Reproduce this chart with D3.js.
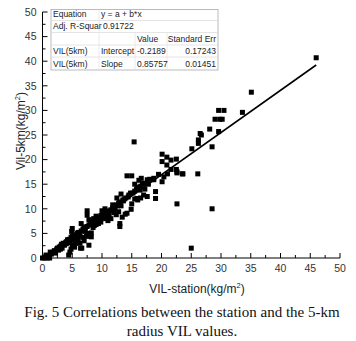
<!DOCTYPE html>
<html>
<head>
<meta charset="utf-8">
<script src="https://cdn.jsdelivr.net/npm/d3@7"></script>
<style>
html,body{margin:0;padding:0;background:#fff;}
svg{display:block;}
</style>
</head>
<body>
<svg id="chart" width="356" height="341"></svg>
<script>
// ---- data ----
const stationVIL = [
  0,0.3,0.5,0.8,1,0.6,1.2,1.5,1.3,
  1.8,2,2.2,2.5,2.7,3,2.4,3,3.2,
  3.5,3.7,4,4,4.3,4.5,4.6,4.8,5,5,5.2,
  4.4,4.6,4.8,5.0,5.4,5.0,4.9,
  5.5,5.8,6,6.2,6.5,6.8,7,7.2,7.5,7.8,8,6,6.3,6.6,7,7.4,7.6,7.5,7.5,8.2,8.2,6.5,7.8,6.4,7.8,6.8,5.6,5.8,
  8.3,8.5,8.8,9,9.2,9.5,9.8,10,10.2,10.5,10.8,11,8.5,9,9.4,9.8,10,10.5,9,8.6,10.3,10.8,11.2,11,11.5,11.8,
  11.5,11.8,12,12.2,12.5,12.8,13,13.2,13.5,13.8,14,12,12.4,12.8,13,13,12.5,13.2,14.2,13.4,13.9,14.9,
  14.2,15,14.5,14.8,15.2,15.5,15.8,16,16.5,16.8,17,15,15.5,16,16.5,15.5,16.2,16.6,17.2,17,15.4,17.6,16.4,17.6,15.9,
  18.7,18.7,20.1,19,19,22.6,20.1,20.1,20.9,21.6,22.5,20.9,21.6,22.5,22.6,23.6,26.1,20.4,21,22.6,23.5,18,17.8,19.5,
  25.1,26.2,26.2,26.5,26.7,28.1,29.6,29,29.8,30.2,29.6,30.5,33.6,35.1,46,28.5,28.5,25,
  2.8,3.4,3.9,4.2,6.1,6.9,7.2,8.9,9.6,10.6,11.3,12.6,13.6,14.4,3.3,5.3,6.3,8.7
];
const radiusVIL = [
  0,0,0.2,0,0.5,0.6,0,0.8,1.2,
  1.2,1.5,1.0,2.0,1.6,2.4,1.8,1.8,2.8,
  3.0,2.6,3.3,2.9,3.6,3.8,3.1,4.2,4.4,3.6,4.0,
  0.6,1.2,1.8,2.6,2.2,6.0,5.4,
  4.7,5.0,5.2,4.5,5.5,5.9,6.0,5.4,6.4,6.7,6.8,3.6,3.0,2.0,3.5,4.4,5.0,9.6,8.7,5.1,4.3,7.0,7.8,2.0,2.6,4.2,3.0,4.0,
  7.2,7.5,7.5,7.8,8.0,8.2,8.6,8.6,9.0,9.0,9.4,9.4,6.2,6.8,7.0,7.3,9.6,10.0,8.5,8.0,8.0,8.2,8.6,7.6,8.0,10.8,
  9.8,10.2,10.4,10.0,10.8,11.2,11.4,10.6,11.8,12.0,12.2,9.2,8.8,9.4,7.0,6.4,12.2,13.0,9.1,8.3,8.9,9.9,
  16.7,16.7,12.8,13.2,13.2,13.6,14.0,14.4,14.6,15.0,15.2,11.0,12.0,11.8,12.2,15.0,15.8,16.2,14.0,12.8,23.6,15.9,13.8,12.5,12.1,
  15.9,16.2,15.5,13.5,12.1,11.0,21.1,19.6,20.5,19.9,20.1,18.9,18.0,18.0,17.3,17.1,17.1,16.5,17.1,17.5,17.1,16.0,15.0,17.0,
  22.2,24.0,23.3,25.3,25.0,26.2,25.7,28.2,28.2,28.2,30.0,30.0,29.6,33.7,40.7,22.6,10.0,2.0,
  2.2,2.7,3.1,3.7,5.0,5.6,6.3,7.4,8.0,9.0,9.6,10.6,11.6,12.4,2.0,4.4,4.8,6.6
];
const fitIntercept = -0.2189;
const fitSlope = 0.85757;
const fitRange = [0, 46];
const xTicks = [0,5,10,15,20,25,30,35,40,45,50];
const yTicks = [0,5,10,15,20,25,30,35,40,45,50];
const tableRows = [
  ["Equation", "y = a + b*x", "", ""],
  ["Adj. R-Squar", "0.91722", "", ""],
  ["", "", "Value", "Standard Err"],
  ["VIL(5km)", "Intercept", "-0.2189", "0.17243"],
  ["VIL(5km)", "Slope", "0.85757", "0.01451"]
];
const xLabel = "VIL-station(kg/m";
const yLabel = "Vil-5km(kg/m";
const captionLines = ["Fig. 5 Correlations between the station and the 5-km", "radius VIL values."];

// ---- drawing ----
const svg = d3.select("#chart");
const x = d3.scaleLinear().domain([0, 50]).range([42.5, 340]);
const y = d3.scaleLinear().domain([0, 50]).range([258, 12]);
const font = "Arial, 'Liberation Sans', sans-serif";

// points
const pts = stationVIL.map((v, i) => [v, radiusVIL[i]]);
const s = 5;
svg.append("g").selectAll("rect").data(pts).join("rect")
  .attr("x", d => x(d[0]) - s/2).attr("y", d => y(d[1]) - s/2)
  .attr("width", s).attr("height", s).attr("fill", "#000");

// fit line
svg.append("line")
  .attr("x1", x(fitRange[0])).attr("y1", y(fitIntercept + fitSlope*fitRange[0]))
  .attr("x2", x(fitRange[1])).attr("y2", y(fitIntercept + fitSlope*fitRange[1]))
  .attr("stroke", "#000").attr("stroke-width", 1.6);

// axes
const minorTicks = d3.range(2.5, 50, 5);
const xAxis = svg.append("g").attr("transform", `translate(0,${y(0)})`);
xAxis.append("line").attr("x1", x(0)).attr("x2", x(50)).attr("stroke", "#000");
xAxis.selectAll(".maj").data(xTicks).join("line").attr("class","maj")
  .attr("x1", d => x(d)).attr("x2", d => x(d)).attr("y1", 0).attr("y2", -5).attr("stroke", "#000");
xAxis.selectAll(".min").data(minorTicks).join("line").attr("class","min")
  .attr("x1", d => x(d)).attr("x2", d => x(d)).attr("y1", 0).attr("y2", -3).attr("stroke", "#000");
xAxis.selectAll("text").data(xTicks).join("text")
  .attr("x", d => x(d)).attr("y", 14).attr("text-anchor", "middle")
  .attr("font-family", font).attr("font-size", 10.5).attr("fill", "#333").text(d => d);

const yAxis = svg.append("g").attr("transform", `translate(${x(0)},0)`);
yAxis.append("line").attr("y1", y(0)).attr("y2", y(50)).attr("stroke", "#000");
yAxis.selectAll(".maj").data(yTicks).join("line").attr("class","maj")
  .attr("y1", d => y(d)).attr("y2", d => y(d)).attr("x1", 0).attr("x2", 5).attr("stroke", "#000");
yAxis.selectAll(".min").data(minorTicks).join("line").attr("class","min")
  .attr("y1", d => y(d)).attr("y2", d => y(d)).attr("x1", 0).attr("x2", 3).attr("stroke", "#000");
yAxis.selectAll("text").data(yTicks).join("text")
  .attr("x", -6).attr("y", d => y(d) + 3.8).attr("text-anchor", "end")
  .attr("font-family", font).attr("font-size", 10.5).attr("fill", "#333").text(d => d);

// axis labels
const xl = svg.append("text").attr("x", 197).attr("y", 293).attr("text-anchor", "middle")
  .attr("font-family", font).attr("font-size", 12).attr("fill", "#222");
xl.append("tspan").text(xLabel);
xl.append("tspan").attr("font-size", 7.5).attr("dy", -5).text("2");
xl.append("tspan").attr("dy", 5).text(")");

const yl = svg.append("text").attr("transform", "translate(25,131) rotate(-90)").attr("text-anchor", "middle")
  .attr("font-family", font).attr("font-size", 12).attr("fill", "#222");
yl.append("tspan").text(yLabel);
yl.append("tspan").attr("font-size", 7.5).attr("dy", -5).text("2");
yl.append("tspan").attr("dy", 5).text(")");

// table
const colX = [51, 99, 135, 167, 218];
const rowY = [9.5, 20.5, 32.5, 45, 57, 70];
const tg = svg.append("g");
tg.append("rect").attr("x", colX[0]).attr("y", rowY[0]).attr("width", colX[4]-colX[0]).attr("height", rowY[5]-rowY[0])
  .attr("fill", "#fff").attr("stroke", "#aaa").attr("stroke-width", 0.8);
rowY.slice(1, 5).forEach(r => tg.append("line").attr("x1", colX[0]).attr("x2", colX[4]).attr("y1", r).attr("y2", r)
  .attr("stroke", "#ddd").attr("stroke-width", 0.8));
[colX[1], colX[2], colX[3]].forEach((c, i) => tg.append("line").attr("x1", c).attr("x2", c)
  .attr("y1", i === 0 ? rowY[0] : rowY[2]).attr("y2", rowY[5]).attr("stroke", "#e4e4e4").attr("stroke-width", 0.8));
tableRows.forEach((row, ri) => {
  row.forEach((cell, ci) => {
    if (!cell) return;
    const right = ci === 3;
    const shift = (ri === 1 && ci === 1) ? 4 : 2;
    tg.append("text")
      .attr("x", right ? colX[4] - 2 : colX[ci] + shift)
      .attr("y", rowY[ri+1] - 3.5)
      .attr("text-anchor", right ? "end" : "start")
      .attr("font-family", font).attr("font-size", 8.5).attr("fill", "#222").text(cell);
  });
});

// caption
captionLines.forEach((c, i) => svg.append("text").attr("x", 182).attr("y", 317 + i*19)
  .attr("text-anchor", "middle").attr("font-family", "'Liberation Serif', 'Times New Roman', serif")
  .attr("font-size", 15).attr("fill", "#111").text(c));
</script>
</body>
</html>
